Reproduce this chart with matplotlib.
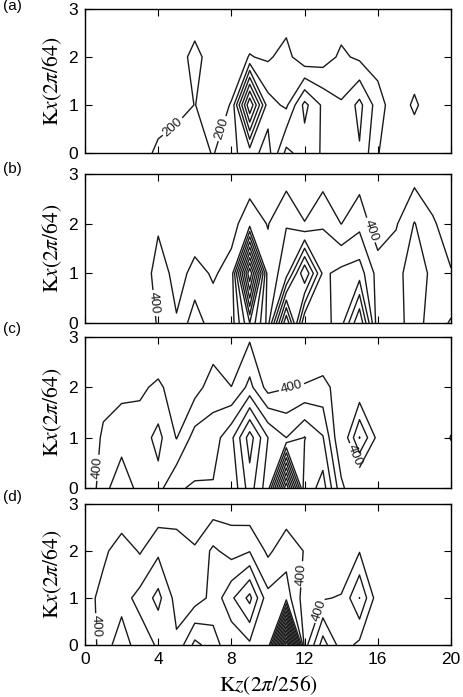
import numpy as np
import matplotlib
matplotlib.use("Agg")
import matplotlib.pyplot as plt

plt.rcParams['font.family'] = ['Liberation Sans', 'DejaVu Sans']
plt.rcParams['mathtext.fontset'] = 'stix'

# grid: Kz = 0..20 (units 2pi/256), Kx = 0..3 (units 2pi/64)
kz = list(range(21))
kx = [0, 1, 2, 3]

# panel (a) values, rows kx=0..3
a_kx0 = [40, 60, 40, 100, 250, 320, 300, 186, 360, 480, 320, 860, 700, 580, 500, 580, 210, 60, 40, 40, 40]
a_kx1 = [40, 40, 40, 60, 80, 120, 204, 120, 210, 1600, 480, 360, 860, 560, 420, 660, 300, 60, 240, 60, 40]
a_kx2 = [40, 40, 40, 60, 80, 110, 260, 110, 100, 210, 170, 280, 40, 100, 240, 160, 100, 60, 60, 40, 40]
a_kx3 = [40, 40, 40, 60, 60, 80, 80, 80, 80, 60, 80, 80, 60, 80, 80, 80, 60, 60, 60, 40, 40]

# panel (b)
b_kx0 = [200, 200, 200, 240, 420, 420, 720, 480, 500, 1200, 520, 2000, 600, 700, 920, 1600, 460, 520, 700, 500, 620]
b_kx1 = [200, 200, 200, 200, 520, 320, 460, 380, 460, 2400, 480, 700, 1600, 760, 860, 900, 520, 540, 700, 560, 420]
b_kx2 = [160, 160, 160, 160, 360, 240, 280, 240, 340, 500, 390, 590, 410, 580, 396, 540, 260, 380, 610, 440, 240]
b_kx3 = [160, 160, 160, 160, 160, 160, 160, 160, 160, 300, 200, 300, 200, 300, 200, 300, 200, 200, 320, 200, 160]

# panel (c)
c_kx0 = [240, 500, 790, 500, 530, 780, 820, 820, 840, 1300, 880, 2800, 840, 1100, 460, 120, 200, 200, 200, 200, 240]
c_kx1 = [300, 420, 480, 500, 660, 390, 680, 700, 950, 1500, 1000, 800, 1010, 814, 180, 810, 334, 200, 200, 240, 410]
c_kx2 = [260, 356, 362, 364, 440, 300, 320, 500, 404, 660, 320, 388, 420, 460, 310, 224, 180, 180, 180, 180, 240]
c_kx3 = [160, 160, 160, 160, 200, 160, 160, 280, 160, 370, 160, 160, 160, 200, 160, 160, 160, 160, 160, 160, 160]

# panel (d)
d_kx0 = [240, 490, 720, 480, 630, 640, 1060, 900, 640, 760, 610, 3200, 300, 900, 500, 350, 200, 200, 200, 200, 200]
d_kx1 = [300, 480, 520, 666, 860, 520, 500, 660, 960, 1260, 660, 700, 300, 380, 420, 804, 280, 180, 180, 180, 180]
d_kx2 = [260, 350, 520, 380, 560, 520, 430, 640, 520, 590, 360, 520, 390, 200, 180, 388, 180, 180, 180, 180, 180]
d_kx3 = [180, 180, 200, 180, 240, 260, 200, 280, 300, 240, 200, 260, 200, 180, 180, 180, 180, 180, 180, 180, 180]

panel_letters = ['(a)', '(b)', '(c)', '(d)']
label_level = [200, 400, 400, 400]
level_start = [200, 400, 400, 400]
level_stop = [1400, 2400, 2600, 3000]
level_step = 200
label_spots = [
    [(5.0, 0.45), (7.55, 0.5)],
    [(3.75, 0.4), (15.45, 1.85)],
    [(0.75, 0.4), (11.3, 1.98), (14.4, 0.6)],
    [(0.6, 0.4), (12.0, 1.5), (12.9, 0.72)],
]

grids = [
    [a_kx0, a_kx1, a_kx2, a_kx3],
    [b_kx0, b_kx1, b_kx2, b_kx3],
    [c_kx0, c_kx1, c_kx2, c_kx3],
    [d_kx0, d_kx1, d_kx2, d_kx3],
]

W, H = 463, 697
fig = plt.figure(figsize=(W / 100, H / 100), dpi=100)

# (top, bottom) pixel rows of each panel
rows_px = [(9, 153), (174, 323), (337, 488), (504, 645)]
left_px, right_px = 85, 451
letter_y = [6, 169, 329, 497]

KZ, KX = np.meshgrid(kz, kx)
for i, (t, b) in enumerate(rows_px):
    ax = fig.add_axes([left_px / W, (H - b) / H, (right_px - left_px) / W, (b - t) / H])
    Z = np.array(grids[i], dtype=float)
    levels = np.arange(level_start[i], level_stop[i] + 1, level_step)
    cs = ax.contour(KZ, KX, Z, levels=levels, colors='#1a1a1a', linewidths=1.0)
    cs.clabel(levels=[label_level[i]], manual=label_spots[i], fmt='%d',
              fontsize=9.5, inline=True, inline_spacing=2)
    ax.set_xlim(0, 20)
    ax.set_ylim(0, 3)
    ax.set_xticks([0, 4, 8, 12, 16, 20])
    ax.set_yticks([0, 1, 2, 3])
    ax.tick_params(direction='in', top=True, right=True, length=5, width=0.8,
                   labelsize=12.5, pad=5)
    for s in ax.spines.values():
        s.set_linewidth(1.0)
    if i < 3:
        ax.set_xticklabels([])
    fig.text(52 / W, 1 - ((t + b) / 2) / H, r'$\mathrm{K}x(2\pi/64)$', rotation=90,
             ha='center', va='center', fontsize=15.5)
    fig.text(3 / W, 1 - letter_y[i] / H, panel_letters[i], ha='left', va='center', fontsize=11)

fig.text(268 / W, 1 - 685 / H, r'$\mathrm{K}z(2\pi/256)$', ha='center', va='center', fontsize=15.5)

fig.savefig('out.png', dpi=100)
